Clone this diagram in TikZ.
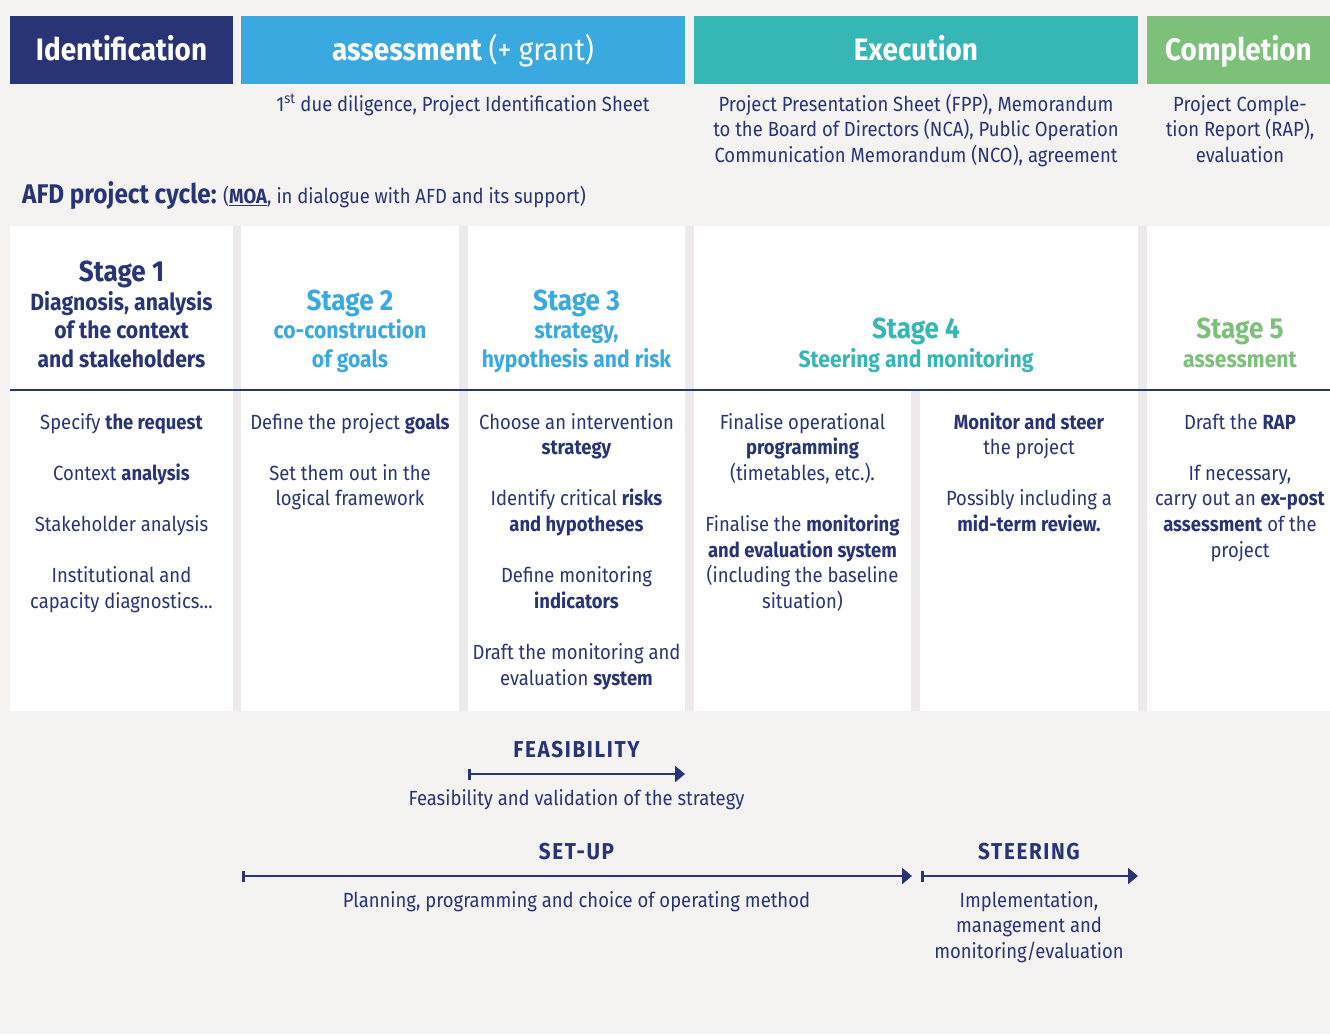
\documentclass[tikz,border=0pt]{standalone}
\usepackage{fontspec}
\setmainfont{Fira Sans}[FakeStretch=0.9]
\usetikzlibrary{arrows.meta}

\definecolor{afdnavy}{RGB}{40,52,118}
\definecolor{afdblue}{RGB}{58,169,224}
\definecolor{afdteal}{RGB}{54,182,181}
\definecolor{afdgreen}{RGB}{125,192,122}
\definecolor{pagebg}{RGB}{244,243,242}
\definecolor{sepgray}{RGB}{236,234,234}

\newcommand{\txtsize}{\fontsize{20.5}{25.6}\selectfont}
\newcommand{\stagesize}{\fontsize{29}{28.5}\selectfont}

\tikzset{
	phase/.style={minimum height=68pt, inner sep=0pt, text=white, text height=21.5pt, text depth=0pt,
		font=\fontsize{31}{36}\selectfont\bfseries},
	note/.style={anchor=base, inner sep=0pt, align=center, text=afdnavy, font=\txtsize},
	stagetitle/.style={anchor=base, inner sep=0pt, align=center,
		font=\fontsize{23.5}{28.5}\selectfont\bfseries},
	steptext/.style={anchor=base, inner sep=0pt, align=center, text=afdnavy, font=\txtsize},
	phaselabel/.style={anchor=base, inner sep=0pt, text=afdnavy,
		font=\fontsize{23}{25}\selectfont\bfseries\addfontfeature{LetterSpace=7}},
	span/.style={afdnavy, line width=2.5pt, {Bar[width=11pt,line width=2.5pt]}-{Triangle[length=10pt,width=16pt]}}
}

\begin{document}
\begin{tikzpicture}[x=1pt, y=-1pt]

	% page and panels
	\fill[pagebg] (0,0) rectangle (1330,1034);
	\useasboundingbox (0,0) rectangle (1330,1034);
	\fill[sepgray] (10,226) rectangle (1330,711);
	\fill[white] (10,226) rectangle (233,711);
	\fill[white] (241,226) rectangle (459,711);
	\fill[white] (468,226) rectangle (685,711);
	\fill[white] (694,226) rectangle (1138,390);
	\fill[white] (694,390) rectangle (911,711);
	\fill[white] (920,390) rectangle (1138,711);
	\fill[white] (1147,226) rectangle (1330,711);
	\draw[afdnavy, line width=2.5pt] (10,390) -- (1330,390);

	% phases
	\node[phase, fill=afdnavy, minimum width=223pt] (ident) at (121.5,50) {Identification};
	\node[phase, fill=afdblue, minimum width=444pt] (assess) at (463,50) {assessment \mdseries(+ grant)};
	\node[phase, fill=afdteal, minimum width=444pt] (exec) at (916,50) {Execution};
	\node[phase, fill=afdgreen, minimum width=183pt] (compl) at (1238.5,50) {Completion};

	\node[note] (assessnote) at (463,111) {1\textsuperscript{st} due diligence, Project Identification Sheet};
	\node[note] (execnote) at (916,162.2) {Project Presentation Sheet (FPP), Memorandum\\
		to the Board of Directors (NCA), Public Operation\\
		Communication Memorandum (NCO), agreement};
	\node[note] (complnote) at (1240,162.2) {Project Comple-\\tion Report (RAP),\\evaluation};

	\node[anchor=base west, inner sep=0pt, text=afdnavy, font=\txtsize] (cycle) at (22,203)
		{{\fontsize{27}{28}\selectfont\bfseries AFD project cycle:} (\underline{\textbf{MOA}}, in dialogue with AFD and its support)};

	% stages
	\node[stagetitle, text=afdnavy] (stage1) at (121.5,367) {{\stagesize Stage 1}\\Diagnosis, analysis\\of the context\\and stakeholders};
	\node[stagetitle, text=afdblue] (stage2) at (350,367) {{\stagesize Stage 2}\\co-construction\\of goals};
	\node[stagetitle, text=afdblue] (stage3) at (576.5,367) {{\stagesize Stage 3}\\strategy,\\hypothesis and risk};
	\node[stagetitle, text=afdteal] (stage4) at (916,367) {{\stagesize Stage 4}\\Steering and monitoring};
	\node[stagetitle, text=afdgreen] (stage5) at (1240,367) {{\stagesize Stage 5}\\assessment};

	% what is done in each stage
	\node[steptext] (steps1) at (121.5,608.2) {Specify \textbf{the request}\\[25.6pt]
		Context \textbf{analysis}\\[25.6pt]
		Stakeholder analysis\\[25.6pt]
		Institutional and\\capacity diagnostics...};
	\node[steptext] (steps2) at (350,505.8) {Define the project \textbf{goals}\\[25.6pt]
		Set them out in the\\logical framework};
	\node[steptext] (steps3) at (576.5,685) {Choose an intervention\\\textbf{strategy}\\[25.6pt]
		Identify critical \textbf{risks}\\\textbf{and hypotheses}\\[25.6pt]
		Define monitoring\\\textbf{indicators}\\[25.6pt]
		Draft the monitoring and\\evaluation \textbf{system}};
	\node[steptext] (steps4a) at (802.5,608.2) {Finalise operational\\\textbf{programming}\\(timetables, etc.).\\[25.6pt]
		Finalise the \textbf{monitoring}\\\textbf{and evaluation system}\\(including the baseline\\situation)};
	\node[steptext] (steps4b) at (1029,531.4) {\textbf{Monitor and steer}\\the project\\[25.6pt]
		Possibly including a\\\textbf{mid-term review.}};
	\node[steptext] (steps5) at (1240,557) {Draft the \textbf{RAP}\\[25.6pt]
		If necessary,\\carry out an \textbf{ex-post}\\\textbf{assessment} of the\\project};

	% periods
	\node[phaselabel] (feas) at (576.5,757) {FEASIBILITY};
	\coordinate (feasA) at (468,774);
	\coordinate (feasB) at (685,774);
	\draw[span] (feasA) -- (feasB);
	\node[steptext] (feastext) at (576.5,805) {Feasibility and validation of the strategy};

	\node[phaselabel] (setup) at (576.5,859) {SET-UP};
	\coordinate (setupA) at (242,876);
	\coordinate (setupB) at (912,876);
	\draw[span] (setupA) -- (setupB);
	\node[steptext] (setuptext) at (576.5,907) {Planning, programming and choice of operating method};

	\node[phaselabel] (steer) at (1029,859) {STEERING};
	\coordinate (steerA) at (921,876);
	\coordinate (steerB) at (1138,876);
	\draw[span] (steerA) -- (steerB);
	\node[steptext] (steertext) at (1029,958.2) {Implementation,\\management and\\monitoring/evaluation};

\end{tikzpicture}
\end{document}
